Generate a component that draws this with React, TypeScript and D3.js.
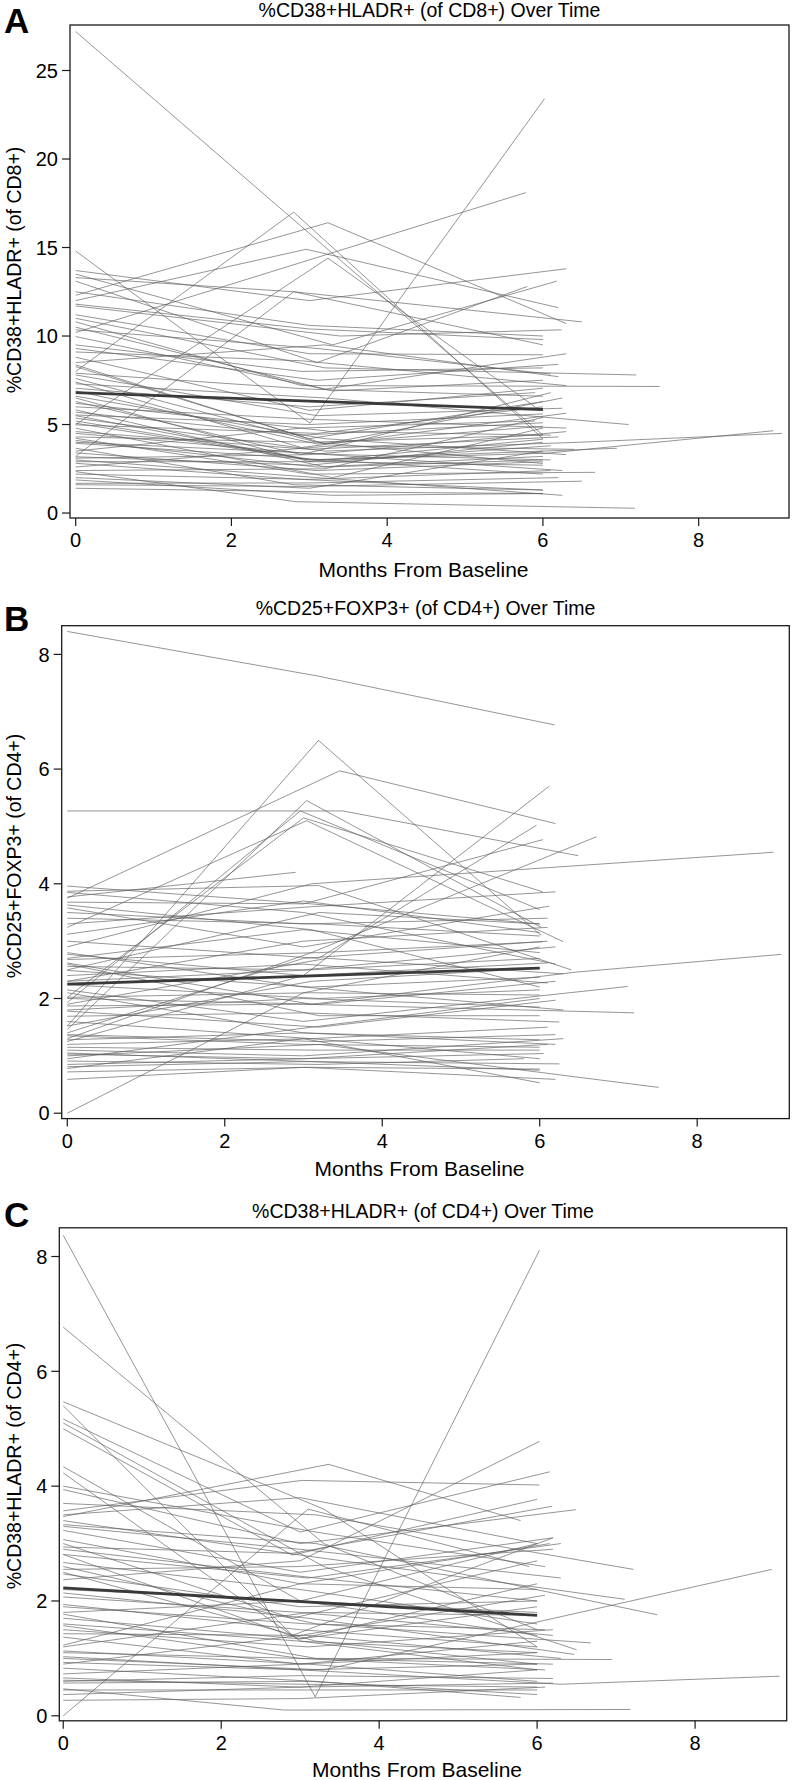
import React from 'react';
import * as d3 from 'd3';

// ---------- data ----------
const xTicks = [0, 2, 4, 6, 8];
const yTicksA = [0, 5, 10, 15, 20, 25];
const yTicksB = [0, 2, 4, 6, 8];
const yTicksC = [0, 2, 4, 6, 8];
const panelLetters = ['A', 'B', 'C'];
const titles = [
  '%CD38+HLADR+ (of CD8+) Over Time',
  '%CD25+FOXP3+ (of CD4+) Over Time',
  '%CD38+HLADR+ (of CD4+) Over Time',
];
const yLabels = ['%CD38+HLADR+ (of CD8+)', '%CD25+FOXP3+ (of CD4+)', '%CD38+HLADR+ (of CD4+)'];
const xLabel = 'Months From Baseline';

// each subject: [t0, v0, t1, v1, ...]
const linesA: number[][] = [
  [0, 27.2, 6.0, 4.4],
  [0, 8.0, 2.8, 17.0, 6.0, 4.2],
  [0, 12.3, 3.24, 16.4, 6.3, 10.7],
  [0, 12.0, 2.96, 14.9, 6.2, 11.6],
  [0, 14.8, 3.01, 5.07, 6.02, 23.4],
  [0, 10.2, 5.78, 18.1],
  [0, 13.7, 3.0, 12.0, 6.3, 13.8],
  [0, 13.5, 3.3, 9.5, 6.18, 13.1],
  [0, 13.3, 2.8, 12.5, 6.5, 10.8],
  [0, 13.1, 3.1, 8.5, 5.8, 12.8],
  [0, 11.8, 3.0, 10.4, 6.0, 9.8],
  [0, 11.7, 3.4, 10.0, 6.24, 10.35],
  [0, 11.2, 3.0, 9.0, 6.0, 8.94],
  [0, 11.0, 3.2, 8.2, 7.2, 7.8],
  [0, 10.8, 2.9, 7.2, 7.5, 7.15],
  [0, 10.35, 3.1, 9.3, 6.1, 7.85],
  [0, 9.97, 3.3, 6.9, 6.0, 7.5],
  [0, 9.1, 2.9, 8.6, 6.3, 7.2],
  [0, 8.8, 3.0, 5.8, 6.0, 7.05],
  [0, 8.37, 3.2, 3.9, 6.25, 6.5],
  [0, 8.27, 3.0, 4.2, 6.0, 6.3],
  [0, 7.8, 3.1, 5.5, 6.25, 5.92],
  [0, 7.4, 2.9, 3.7, 6.3, 5.64],
  [0, 7.3, 3.2, 6.5, 7.1, 5.0],
  [0, 7.05, 3.0, 6.0, 5.9, 6.8],
  [0, 6.5, 3.0, 2.9, 6.0, 4.17],
  [0, 6.2, 3.3, 4.6, 6.1, 4.4],
  [0, 5.5, 3.0, 3.0, 6.05, 3.38, 8.96, 4.65],
  [0, 5.36, 3.2, 3.5, 6.47, 4.0, 9.07, 4.5],
  [0, 5.07, 3.0, 3.0, 6.95, 3.66],
  [0, 4.98, 3.1, 4.5, 6.0, 6.0],
  [0, 4.79, 3.3, 2.0, 6.0, 4.8],
  [0, 4.5, 2.9, 3.4, 6.25, 2.4],
  [0, 4.22, 3.0, 2.2, 6.67, 2.3],
  [0, 3.94, 3.2, 3.0, 6.0, 2.2],
  [0, 3.66, 2.8, 1.6, 6.0, 1.3],
  [0, 3.2, 2.8, 12.5, 6.0, 9.5],
  [0, 5.0, 3.24, 14.4, 5.9, 6.0],
  [0, 3.18, 3.0, 2.7, 6.0, 4.0],
  [0, 3.0, 3.1, 2.0, 6.25, 1.0],
  [0, 2.81, 2.9, 1.9, 6.0, 1.3],
  [0, 2.34, 2.83, 0.64, 7.18, 0.27],
  [0, 1.87, 3.3, 1.0, 6.0, 1.1],
  [0, 1.68, 3.0, 1.7, 6.2, 2.0],
  [0, 1.4, 3.1, 1.2, 6.0, 1.1],
  [0, 2.4, 3.2, 2.5, 6.0, 5.4],
  [0, 5.54, 3.0, 5.0, 6.0, 5.6],
  [0, 4.0, 3.4, 3.3, 6.1, 3.0],
  [0, 8.5, 3.2, 9.5, 6.2, 7.7],
  [0, 9.5, 2.9, 8.0, 6.0, 8.2],
  [0, 3.5, 2.9, 4.8, 5.9, 5.2],
  [0, 2.0, 3.0, 1.4, 6.0, 3.5],
  [0, 10.5, 3.2, 7.0, 6.3, 9.0],
  [0, 6.3, 2.9, 3.3, 6.1, 6.8],
  [0, 2.6, 3.3, 3.8, 6.4, 3.6],
  [0, 4.3, 3.0, 4.0, 6.0, 4.4],
  [0, 5.83, 3.2, 2.6, 6.0, 3.0],
  [0, 6.0, 3.0, 5.3, 6.3, 4.8],
  [0, 7.6, 3.1, 4.0, 6.0, 2.8],
  [0, 2.9, 3.2, 2.9, 6.0, 2.7],
  [0, 1.6, 2.9, 1.5, 6.5, 1.8],
  [0, 6.9, 3.1, 3.9, 6.0, 4.9],
  [0, 5.2, 3.2, 2.9, 6.1, 3.8],
  [0, 4.6, 3.0, 3.6, 6.2, 4.3],
  [0, 3.4, 3.1, 2.4, 6.0, 2.9],
  [0, 7.9, 3.0, 7.0, 6.0, 6.6],
  [0, 9.3, 3.1, 7.5, 6.2, 8.4],
  [0, 6.6, 3.2, 4.2, 6.3, 3.3],
  [0, 2.2, 3.0, 1.9, 6.1, 2.4],
  [0, 4.1, 3.1, 2.6, 6.0, 3.2],
  [0, 5.7, 2.9, 4.4, 6.0, 5.1],
  [0, 3.1, 3.0, 3.3, 6.3, 4.6],
  [0, 12.5, 3.0, 10.6, 6.0, 10.0],
];
const meanA = [0, 6.8, 6.0, 5.85];

const linesB: number[][] = [
  [0, 8.4, 3.19, 7.62, 6.19, 6.77],
  [0, 1.52, 3.19, 6.5, 6.02, 3.1],
  [0, 3.75, 3.46, 5.97, 6.2, 5.05],
  [0, 5.27, 3.5, 5.27, 6.49, 4.49],
  [0, 1.25, 3.0, 2.4, 6.12, 5.7],
  [0, 1.3, 3.1, 2.8, 6.72, 4.82],
  [0, 1.46, 3.04, 5.45, 6.02, 3.24],
  [0, 1.93, 2.96, 5.27, 6.0, 3.55],
  [0, 2.02, 3.0, 5.15, 6.04, 3.86],
  [0, 3.24, 3.04, 5.1, 6.3, 2.99],
  [0, 3.77, 2.9, 4.2],
  [0, 3.96, 3.1, 3.65, 6.0, 3.3],
  [0, 3.87, 3.19, 3.97, 6.4, 2.5],
  [0, 3.68, 3.0, 3.65, 6.04, 4.77],
  [0, 3.63, 3.1, 3.2, 6.0, 2.2],
  [0, 3.58, 3.0, 2.9, 6.12, 3.61],
  [0, 3.4, 3.2, 3.3, 6.0, 3.09],
  [0, 3.12, 3.0, 3.7, 6.0, 3.15],
  [0, 3.0, 3.19, 2.7, 5.96, 5.02],
  [0, 2.9, 3.1, 4.0, 8.97, 4.55],
  [0, 2.77, 3.0, 2.4, 6.1, 2.62],
  [0, 2.68, 3.2, 2.8, 6.04, 2.99],
  [0, 2.62, 3.1, 1.9, 6.46, 2.46, 9.07, 2.77],
  [0, 2.56, 3.0, 2.5, 6.2, 2.9],
  [0, 2.49, 3.1, 2.2, 6.0, 2.37],
  [0, 2.4, 3.0, 2.6, 6.1, 2.27],
  [0, 2.24, 3.2, 2.0, 6.0, 2.15],
  [0, 2.15, 3.0, 1.6, 7.12, 2.21],
  [0, 2.02, 3.1, 2.1, 6.0, 2.06],
  [0, 1.87, 3.0, 1.9, 7.2, 1.75],
  [0, 1.78, 3.2, 1.5, 6.2, 1.97],
  [0, 1.69, 3.0, 1.75, 6.25, 1.59],
  [0, 1.52, 3.1, 2.3, 6.0, 2.53],
  [0, 1.37, 3.19, 1.25, 6.2, 1.37],
  [0, 1.28, 3.0, 1.4, 6.0, 1.28],
  [0, 1.15, 3.1, 1.1, 6.0, 1.1],
  [0, 1.03, 3.0, 0.95, 6.05, 1.04],
  [0, 0.91, 3.2, 0.85, 5.8, 0.95],
  [0, 0.81, 3.0, 0.9, 6.25, 0.86],
  [0, 0.72, 3.1, 0.8, 6.0, 0.77],
  [0, 0.59, 3.0, 0.8, 6.2, 0.59],
  [0, 0.0, 3.0, 2.1, 6.0, 2.9],
  [0, 0.78, 3.0, 1.3, 6.0, 0.53],
  [0, 1.0, 3.2, 1.2, 7.51, 0.45],
  [0, 2.3, 3.0, 3.0, 6.1, 3.24],
  [0, 3.3, 3.1, 3.6, 6.2, 3.86],
  [0, 1.9, 3.3, 2.7, 6.3, 2.43],
  [0, 1.4, 3.0, 2.7, 6.1, 3.0],
  [0, 2.6, 3.2, 1.7, 6.0, 1.7],
  [0, 2.1, 3.0, 1.4, 6.2, 1.2],
  [0, 1.1, 3.0, 1.0, 6.3, 1.3],
  [0, 0.95, 3.1, 1.5, 6.0, 2.0],
  [0, 2.5, 3.2, 3.5, 6.0, 3.3],
  [0, 1.6, 3.1, 1.3, 6.0, 0.95],
  [0, 2.8, 3.0, 2.2, 6.3, 1.8],
  [0, 1.8, 3.0, 2.0, 6.0, 1.85],
  [0, 1.2, 3.1, 1.3, 6.1, 1.5],
  [0, 2.3, 3.1, 2.5, 6.0, 2.7],
  [0, 3.5, 3.0, 3.3, 6.1, 3.4],
  [0, 1.35, 3.0, 1.2, 6.0, 1.15],
  [0, 2.0, 3.2, 1.9, 6.2, 2.3],
  [0, 0.85, 3.0, 0.95, 6.1, 1.2],
  [0, 2.7, 3.0, 3.2, 6.0, 2.8],
  [0, 1.05, 3.1, 0.9, 6.0, 0.75],
  [0, 3.85, 3.0, 3.5, 6.2, 2.6],
];
const meanB = [0, 2.25, 6.0, 2.53];

const linesC: number[][] = [
  [0, 8.37, 3.19, 0.33, 6.03, 8.11],
  [0, 6.77, 3.3, 3.0, 6.0, 1.5],
  [0, 5.47, 3.3, 3.6, 6.0, 1.2],
  [0, 5.4, 2.9, 1.4, 6.2, 3.1],
  [0, 5.17, 3.0, 3.2, 6.16, 4.25],
  [0, 5.1, 3.3, 2.6, 6.5, 1.15],
  [0, 5.0, 2.9, 2.8, 6.0, 3.77],
  [0, 3.47, 3.36, 4.38, 5.79, 3.4],
  [0, 4.34, 3.0, 2.0, 6.0, 1.4],
  [0, 4.23, 3.0, 1.3, 6.0, 0.8],
  [0, 3.94, 3.0, 3.0, 6.49, 3.59],
  [0, 3.7, 3.2, 3.5, 7.22, 2.55],
  [0, 3.57, 3.02, 4.1, 6.03, 4.02],
  [0, 3.4, 3.0, 2.8, 7.11, 2.03],
  [0, 3.33, 3.2, 3.0, 7.52, 1.76],
  [0, 3.23, 3.0, 2.5, 6.2, 3.1],
  [0, 3.07, 3.0, 2.3, 6.0, 2.2],
  [0, 2.94, 2.9, 2.83, 6.19, 3.65],
  [0, 2.81, 3.1, 2.4, 6.3, 3.0],
  [0, 2.67, 3.0, 2.2, 6.0, 1.6],
  [0, 2.6, 3.2, 1.6, 6.68, 1.27],
  [0, 2.47, 3.0, 1.9, 6.0, 2.0],
  [0, 2.37, 3.0, 2.7, 6.03, 4.78],
  [0, 2.14, 3.1, 1.7, 6.47, 1.07],
  [0, 2.07, 3.0, 1.8, 6.2, 1.4],
  [0, 1.94, 3.0, 1.5, 6.0, 1.2],
  [0, 1.77, 3.2, 1.0, 6.95, 0.98],
  [0, 1.7, 3.0, 1.34, 6.0, 1.9],
  [0, 1.57, 3.0, 1.0, 6.1, 0.8],
  [0, 1.43, 3.1, 1.4, 6.3, 1.0],
  [0, 1.37, 3.0, 0.9, 6.0, 1.3],
  [0, 1.23, 3.0, 2.3, 6.16, 3.0],
  [0, 1.13, 3.1, 0.9, 6.0, 0.6],
  [0, 1.03, 3.0, 0.8, 6.3, 0.55, 9.07, 0.69],
  [0, 0.93, 3.0, 0.8, 6.0, 0.9],
  [0, 0.83, 3.2, 0.6, 5.79, 0.32],
  [0, 0.73, 3.0, 0.9, 6.0, 1.1],
  [0, 0.66, 3.0, 0.5, 6.2, 0.57],
  [0, 0.57, 3.1, 0.6, 6.0, 0.37],
  [0, 0.47, 2.8, 0.1, 7.18, 0.11],
  [0, 0.37, 3.0, 0.5, 6.0, 0.8],
  [0, 0.27, 3.0, 0.3, 6.1, 0.5],
  [0, 0.0, 3.1, 3.6, 5.9, 2.6],
  [0, 1.0, 3.3, 0.8, 8.97, 2.55],
  [0, 2.81, 3.0, 1.34, 6.0, 2.3],
  [0, 3.0, 2.9, 1.7, 6.0, 2.7],
  [0, 1.8, 3.0, 2.0, 6.0, 3.0],
  [0, 1.5, 3.1, 1.2, 6.2, 1.5],
  [0, 0.9, 3.0, 1.4, 6.1, 2.1],
  [0, 2.5, 3.2, 1.3, 6.0, 0.9],
  [0, 3.5, 3.0, 3.8, 6.0, 3.0],
  [0, 1.2, 3.1, 1.8, 6.0, 1.75],
  [0, 0.6, 3.0, 0.7, 6.2, 0.65],
  [0, 2.2, 3.0, 2.0, 6.0, 1.8],
  [0, 1.9, 3.1, 1.6, 6.1, 1.5],
  [0, 0.62, 3.0, 0.55, 6.0, 0.5],
  [0, 1.1, 3.0, 1.0, 6.2, 0.9],
  [0, 2.9, 3.2, 2.4, 6.0, 2.0],
  [0, 3.3, 3.0, 2.9, 6.3, 2.4],
  [0, 0.45, 3.1, 0.45, 6.0, 0.45],
  [0, 1.6, 3.0, 1.3, 6.0, 1.1],
  [0, 4.0, 3.2, 3.2, 6.1, 2.6],
  [0, 2.55, 3.0, 2.6, 6.2, 2.9],
];
const meanC = [0, 2.23, 6.0, 1.75];

// ---------- layout ----------
const W = 792;
const H = 1780;
const FONT = 'Liberation Sans, Arial, Helvetica, sans-serif';

type Layout = {
  left: number; right: number; top: number; bottom: number;
  xDom: [number, number]; yDom: [number, number];
  titleY: number; letterY: number; ylabelCy: number; xlabelY: number;
};

const layouts: Layout[] = [
  { left: 70, right: 789, top: 25, bottom: 518, xDom: [-0.073, 9.16], yDom: [-0.28, 27.57], titleY: 16.5, letterY: 33, ylabelCy: 270, xlabelY: 577 },
  { left: 61.7, right: 789.3, top: 625.7, bottom: 1118.6, xDom: [-0.071, 9.17], yDom: [-0.094, 8.5], titleY: 615, letterY: 631, ylabelCy: 856, xlabelY: 1176 },
  { left: 59.3, right: 786.7, top: 1227.8, bottom: 1720.8, xDom: [-0.05, 9.16], yDom: [-0.087, 8.5], titleY: 1218, letterY: 1227, ylabelCy: 1466, xlabelY: 1777 },
];

const panelData = [
  { lines: linesA, mean: meanA, yTicks: yTicksA },
  { lines: linesB, mean: meanB, yTicks: yTicksB },
  { lines: linesC, mean: meanC, yTicks: yTicksC },
];

function toPairs(a: number[]): [number, number][] {
  const out: [number, number][] = [];
  for (let i = 0; i < a.length; i += 2) out.push([a[i], a[i + 1]]);
  return out;
}

function Panel({ idx }: { idx: number }) {
  const L = layouts[idx];
  const D = panelData[idx];
  const x = d3.scaleLinear().domain(L.xDom).range([L.left, L.right]);
  const y = d3.scaleLinear().domain(L.yDom).range([L.bottom, L.top]);
  const line = d3.line<[number, number]>().x((d) => x(d[0])).y((d) => y(d[1]));
  const tickLen = 8;
  const cx = (L.left + L.right) / 2;
  return (
    <g>
      <text x={4} y={L.letterY} fontFamily={FONT} fontWeight="bold" fontSize={35} fill="#000">
        {panelLetters[idx]}
      </text>
      <text x={cx} y={L.titleY} textAnchor="middle" fontFamily={FONT} fontSize={19.5} fill="#000">
        {titles[idx]}
      </text>
      <g>
        {D.lines.map((s, i) => (
          <path key={i} d={line(toPairs(s)) || ''} fill="none" stroke="#5e5e5e" strokeOpacity={0.66} strokeWidth={1} />
        ))}
        <path d={line(toPairs(D.mean)) || ''} fill="none" stroke="#3a3a3a" strokeWidth={2.8} />
      </g>
      <rect x={L.left} y={L.top} width={L.right - L.left} height={L.bottom - L.top} fill="none" stroke="#1a1a1a" strokeWidth={1.3} />
      {D.yTicks.map((t) => (
        <g key={'y' + t}>
          <line x1={L.left - tickLen} x2={L.left} y1={y(t)} y2={y(t)} stroke="#1a1a1a" strokeWidth={1.2} />
          <text x={L.left - tickLen - 4} y={y(t)} dy="0.36em" textAnchor="end" fontFamily={FONT} fontSize={20} fill="#000">
            {t}
          </text>
        </g>
      ))}
      {xTicks.map((t) => (
        <g key={'x' + t}>
          <line x1={x(t)} x2={x(t)} y1={L.bottom} y2={L.bottom + tickLen} stroke="#1a1a1a" strokeWidth={1.2} />
          <text x={x(t)} y={L.bottom + 29} textAnchor="middle" fontFamily={FONT} fontSize={20} fill="#000">
            {t}
          </text>
        </g>
      ))}
      <text x={cx - 6} y={L.xlabelY} textAnchor="middle" fontFamily={FONT} fontSize={21} fill="#000">
        {xLabel}
      </text>
      <text
        transform={`translate(21,${L.ylabelCy}) rotate(-90)`}
        textAnchor="middle"
        fontFamily={FONT}
        fontSize={19.5}
        fill="#000"
      >
        {yLabels[idx]}
      </text>
    </g>
  );
}

export default function App() {
  return (
    <svg
      width={W}
      height={H}
      viewBox={`0 0 ${W} ${H}`}
      style={{ position: 'absolute', left: 0, top: 0, background: '#fff' }}
    >
      <rect x={0} y={0} width={W} height={H} fill="#fff" />
      {[0, 1, 2].map((i) => (
        <Panel key={i} idx={i} />
      ))}
    </svg>
  );
}
